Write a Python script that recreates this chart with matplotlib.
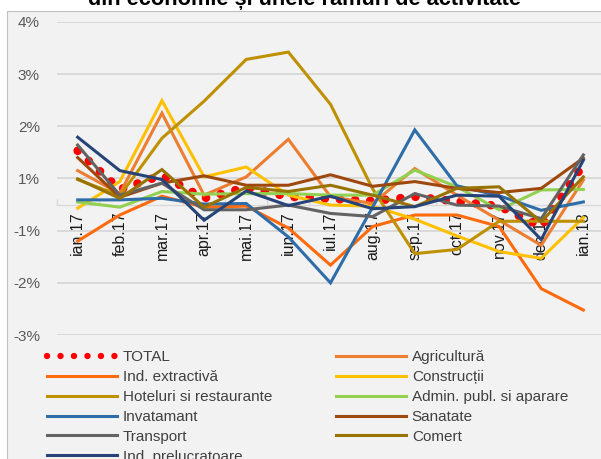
import matplotlib
matplotlib.use('Agg')
import matplotlib.pyplot as plt
from matplotlib.patches import Rectangle
from matplotlib.lines import Line2D

months = ["ian.17", "feb.17", "mar.17", "apr.17", "mai.17", "iun.17", "iul.17",
          "aug.17", "sep.17", "oct.17", "nov.17", "dec.17", "ian.18"]

total = [1.03, 0.29, 0.56, 0.12, 0.33, 0.15, 0.11, 0.07, 0.15, 0.06, -0.03, -0.42, 0.76]
agricultura = [0.65, 0.21, 1.75, 0.18, 0.53, 1.25, 0.15, 0.02, 0.69, 0.18, -0.30, -0.78, 0.47]
ind_extractiva = [-0.70, -0.20, 0.16, -0.05, -0.03, -0.45, -1.16, -0.42, -0.20, -0.20, -0.42, -1.61, -2.02]
constructii = [-0.07, 0.44, 1.99, 0.53, 0.72, 0.18, -0.01, -0.03, -0.28, -0.60, -0.90, -1.03, -0.25]
hoteluri = [0.48, 0.17, 1.27, 1.98, 2.78, 2.92, 1.92, 0.30, -0.94, -0.86, -0.32, -0.32, -0.32]
admin = [0.05, -0.05, 0.25, 0.20, 0.21, 0.21, 0.18, 0.18, 0.66, 0.34, -0.10, 0.28, 0.29]
invatamant = [0.09, 0.09, 0.12, 0.01, 0.02, -0.62, -1.50, -0.05, 1.43, 0.36, 0.17, -0.11, 0.05]
sanatate = [0.90, 0.14, 0.41, 0.55, 0.37, 0.37, 0.57, 0.35, 0.44, 0.31, 0.23, 0.31, 0.89]
transport = [1.14, 0.18, 0.41, -0.10, -0.10, -0.01, -0.17, -0.23, 0.21, -0.01, -0.03, -0.27, 0.95]
comert = [0.49, 0.12, 0.67, -0.05, 0.33, 0.25, 0.37, 0.18, -0.04, 0.31, 0.34, -0.33, 0.53]
ind_prelucratoare = [1.29, 0.65, 0.48, -0.30, 0.26, -0.02, 0.16, -0.08, -0.04, 0.18, 0.16, -0.67, 0.85]

ytick_vals = [3.5, 2.5, 1.5, 0.5, -0.5, -1.5, -2.5]
ytick_labels = ["4%", "3%", "2%", "1%", "-1%", "-2%", "-3%"]

title = "din economie și unele ramuri de activitate"

plt.rcParams['font.family'] = ['Liberation Sans', 'DejaVu Sans']

W, H = 601, 459
fig = plt.figure(figsize=(W / 100, H / 100), dpi=100)
fig.patch.set_facecolor('white')


def fx(px):
    return px / W


def fy(py):
    return 1 - py / H


bg = Rectangle((fx(7), -0.05), 1.2, fy(11) + 0.05, transform=fig.transFigure,
               facecolor='#f2f2f2', edgecolor='#bfbfbf', lw=0.8, zorder=-5)
fig.patches.append(bg)

fig.text(fx(305), fy(5.5), title, ha='center', va='baseline', fontsize=15.7,
         fontweight='bold', color='black')

ax = fig.add_axes([fx(56.6), fy(335.1), 547.8 / W, (335.1 - 21.8) / H])
ax.set_zorder(1)
ax.patch.set_alpha(0)

x = list(range(len(months)))
series = [
    ("TOTAL", total, '#ff0000'),
    ("Agricultură", agricultura, '#ED7D31'),
    ("Ind. extractivă", ind_extractiva, '#FF6A0D'),
    ("Construcții", constructii, '#FFC000'),
    ("Hoteluri si restaurante", hoteluri, '#BF9000'),
    ("Admin. publ. si aparare", admin, '#92D050'),
    ("Invatamant", invatamant, '#2E6DA8'),
    ("Sanatate", sanatate, '#9E480E'),
    ("Transport", transport, '#636363'),
    ("Comert", comert, '#997300'),
    ("Ind. prelucratoare", ind_prelucratoare, '#264478'),
]

handles = {}
for i, (name, vals, col) in enumerate(series):
    if name == "TOTAL":
        ln, = ax.plot(x, vals, color=col, lw=6.2, linestyle=(0, (0.01, 1.75)),
                      dash_capstyle='round', zorder=3 + i, label=name)
    else:
        ln, = ax.plot(x, vals, color=col, lw=2.2, zorder=3 + i, label=name,
                      solid_joinstyle='miter')
    handles[name] = ln

ax.set_xlim(-0.5, len(months) - 0.5)
ax.set_ylim(-2.5, 3.5)
ax.set_yticks(ytick_vals)
ax.set_yticklabels(ytick_labels)
ax.tick_params(axis='y', length=0, pad=12, labelsize=11, labelcolor='#595959')
ax.yaxis.grid(True, color='#d9d9d9', lw=1.4)
ax.set_axisbelow(True)

ax.set_xticks(x)
ax.set_xticklabels(months)
ax.set_xticks([v - 0.5 for v in x] + [len(months) - 0.5], minor=True)
ax.tick_params(axis='x', which='major', length=0, pad=5, labelsize=11.5,
               labelcolor='#1a1a1a', labelrotation=90)
ax.tick_params(axis='x', which='minor', length=4, direction='in', color='#d9d9d9', width=1)

for s in ['top', 'right', 'left']:
    ax.spines[s].set_visible(False)
ax.spines['bottom'].set_position(('data', 0))
ax.spines['bottom'].set_color('#d9d9d9')
ax.spines['bottom'].set_linewidth(1.0)

order = ["TOTAL", "Ind. extractivă", "Hoteluri si restaurante", "Invatamant", "Transport",
         "Ind. prelucratoare", "Agricultură", "Construcții", "Admin. publ. si aparare",
         "Sanatate", "Comert"]
leg_handles = []
for name in order:
    h = handles[name]
    if name == "TOTAL":
        leg_handles.append(Line2D([], [], color='#ff0000', lw=4.6, linestyle=(0, (0.01, 2.1)),
                                  dash_capstyle='round'))
    else:
        leg_handles.append(Line2D([], [], color=h.get_color(), lw=2.2))

leg = fig.legend(leg_handles, order, loc='upper left', bbox_to_anchor=(fx(47), fy(350)),
                 ncol=2, frameon=False, fontsize=11, handlelength=4.6, handletextpad=0.35,
                 columnspacing=4.2, labelspacing=0.39, borderpad=0, borderaxespad=0)
for t in leg.get_texts():
    t.set_color('#404040')

fig.savefig('out.png', dpi=100, facecolor='white')
